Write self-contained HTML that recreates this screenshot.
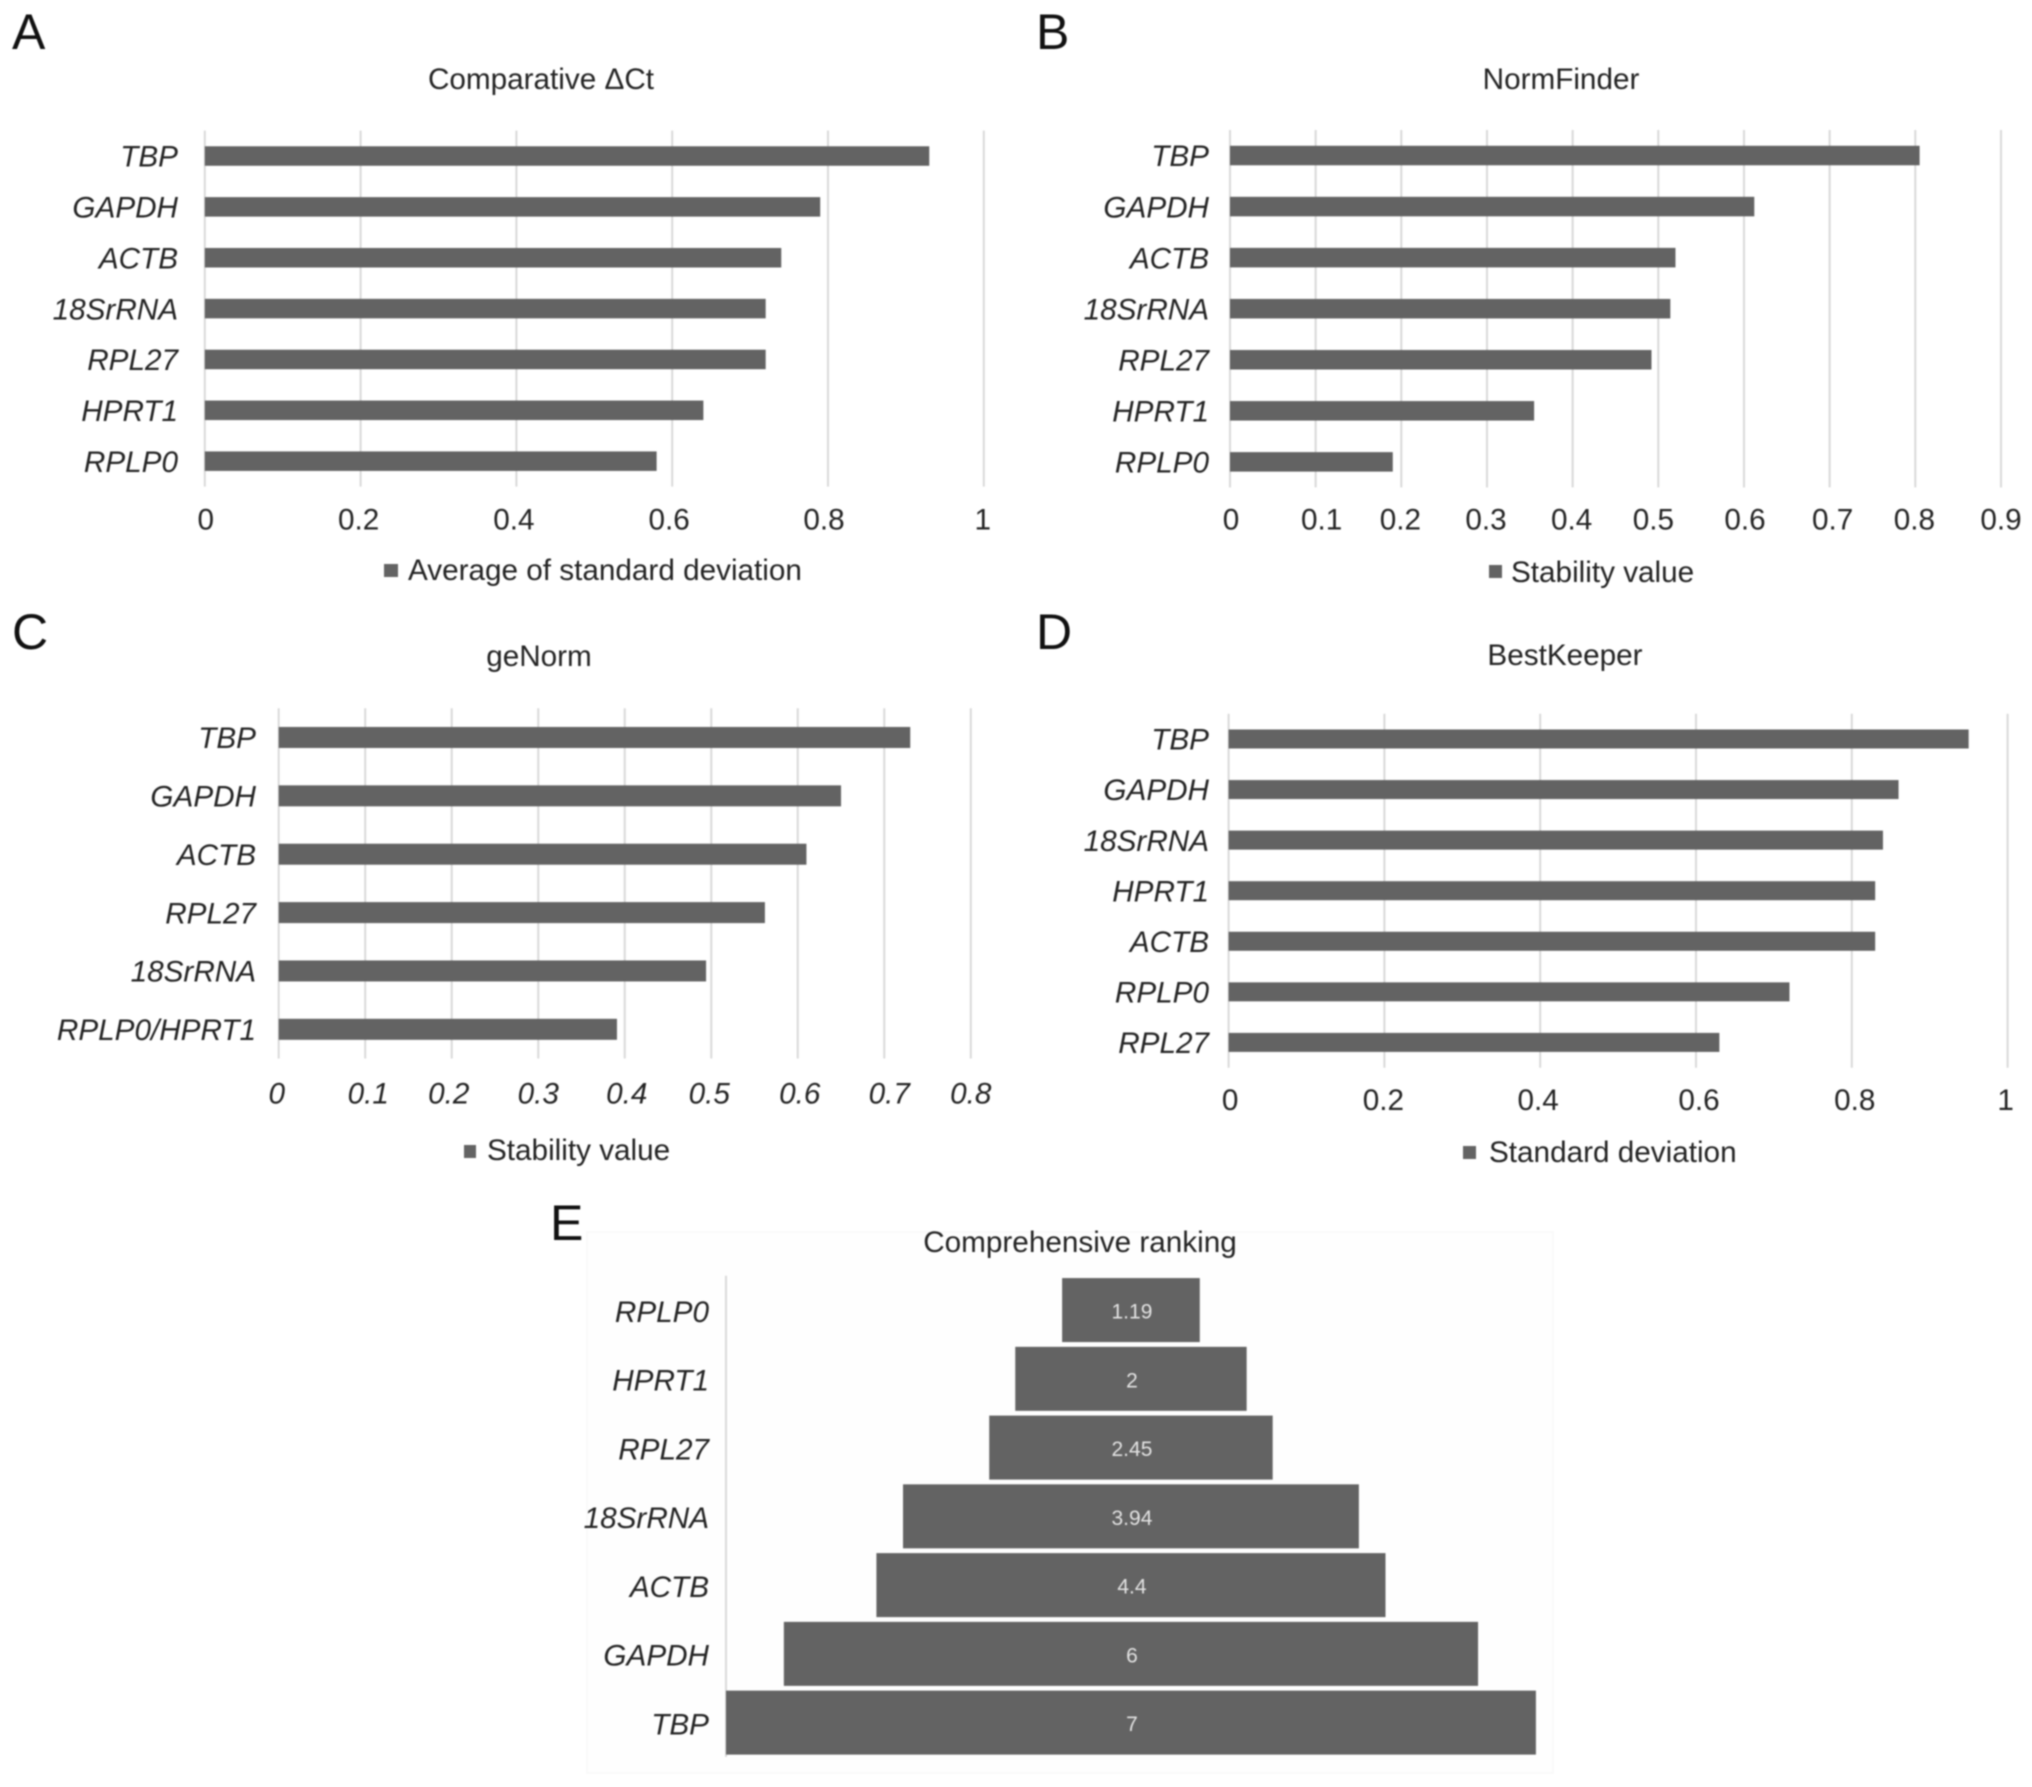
<!DOCTYPE html>
<html lang="en">
<head>
<meta charset="utf-8">
<title>Reference gene stability rankings</title>
<style>
  html, body { margin: 0; padding: 0; background: #fff; }
  body { width: 2032px; height: 1787px; overflow: hidden; }
  svg { display: block; filter: blur(0.7px); }
  text { font-family: "Liberation Sans", sans-serif; fill: #242424; font-size: 29.7px; }
  .letter { font-size: 50px; fill: #111; }
  .mid { text-anchor: middle; }
</style>
</head>
<body>
<svg id="figure" width="2032" height="1787" viewBox="0 0 2032 1787" xmlns="http://www.w3.org/2000/svg">
  <rect x="587" y="1232" width="966" height="541" fill="#fefefe" stroke="#fafafa" stroke-width="2"/>

  <text class="letter" x="12" y="49">A</text>
  <text class="letter" x="1036" y="49">B</text>
  <text class="letter" x="12" y="649">C</text>
  <text class="letter" x="1036" y="649">D</text>
  <text class="letter" x="550" y="1240">E</text>

  <text class="mid" x="541" y="89">Comparative ΔCt</text>
  <text class="mid" x="1561" y="89">NormFinder</text>
  <text class="mid" x="539" y="666">geNorm</text>
  <text class="mid" x="1565" y="665">BestKeeper</text>
  <text class="mid" x="1080" y="1252">Comprehensive ranking</text>

  <rect x="384" y="564" width="14" height="13" fill="#636363"/>
  <text x="408" y="580">Average of standard deviation</text>
  <rect x="1489" y="565" width="13" height="13" fill="#636363"/>
  <text x="1511" y="582">Stability value</text>
  <rect x="464" y="1145" width="12" height="13" fill="#636363"/>
  <text x="487" y="1160">Stability value</text>
  <rect x="1463" y="1146" width="13" height="13" fill="#636363"/>
  <text x="1489" y="1162">Standard deviation</text>

  <g id="charts"></g>
</svg>

<script>
// Panel A: Comparative delta-Ct
const aCategories = ['TBP', 'GAPDH', 'ACTB', '18SrRNA', 'RPL27', 'HPRT1', 'RPLP0'];
const aValues = [0.93, 0.79, 0.74, 0.72, 0.72, 0.64, 0.58];
const aTicks = [0, 0.2, 0.4, 0.6, 0.8, 1];

// Panel B: NormFinder
const bCategories = ['TBP', 'GAPDH', 'ACTB', '18SrRNA', 'RPL27', 'HPRT1', 'RPLP0'];
const bValues = [0.805, 0.612, 0.52, 0.514, 0.492, 0.355, 0.19];
const bTicks = [0, 0.1, 0.2, 0.3, 0.4, 0.5, 0.6, 0.7, 0.8, 0.9];

// Panel C: geNorm
const cCategories = ['TBP', 'GAPDH', 'ACTB', 'RPL27', '18SrRNA', 'RPLP0/HPRT1'];
const cValues = [0.73, 0.65, 0.61, 0.562, 0.494, 0.391];
const cTicks = [0, 0.1, 0.2, 0.3, 0.4, 0.5, 0.6, 0.7, 0.8];

// Panel D: BestKeeper
const dCategories = ['TBP', 'GAPDH', '18SrRNA', 'HPRT1', 'ACTB', 'RPLP0', 'RPL27'];
const dValues = [0.95, 0.86, 0.84, 0.83, 0.83, 0.72, 0.63];
const dTicks = [0, 0.2, 0.4, 0.6, 0.8, 1];

// Panel E: Comprehensive ranking
const eCategories = ['RPLP0', 'HPRT1', 'RPL27', '18SrRNA', 'ACTB', 'GAPDH', 'TBP'];
const eValues = [1.19, 2, 2.45, 3.94, 4.4, 6, 7];

const SVG_NS = 'http://www.w3.org/2000/svg';
const BAR_COLOR = '#636363';
const GRID_COLOR = '#d9d9d9';
const root = document.getElementById('charts');

function make(tag, parent, props) {
  const el = document.createElementNS(SVG_NS, tag);
  Object.keys(props).forEach(function (k) { el.setAttribute(k, props[k]); });
  parent.appendChild(el);
  return el;
}

function slug(s) {
  return s.toLowerCase().replace(/[^a-z0-9]+/g, '-');
}

function drawBars(id, categories, values, ticks, box) {
  const axisMax = ticks[ticks.length - 1];
  const x = function (v) { return box.left + (v / axisMax) * (box.right - box.left); };
  const step = (box.bottom - box.top) / categories.length;
  const y = function (i) { return box.top + step * (i + 0.5); };

  const group = make('g', root, {});
  
  

  ticks.forEach(function (t, n) {
    const line = make('line', group, {
      x1: x(t), x2: x(t), y1: box.top, y2: box.bottom,
      stroke: GRID_COLOR, 'stroke-width': 2
    });
    
    

    const label = make('text', group, {
      x: x(t) + (box.tickNudge[n] || 0), y: box.tickY, dy: '0.36em', 'text-anchor': 'middle',
      'font-style': box.tickItalic ? 'italic' : 'normal'
    });
    label.textContent = String(t);
    
    
  });

  categories.forEach(function (cat, i) {
    const bar = make('rect', group, {
      x: x(0), y: y(i) - box.barHeight / 2,
      width: x(values[i]) - x(0), height: box.barHeight, fill: BAR_COLOR
    });
    
    

    const label = make('text', group, {
      x: box.labelRight, y: y(i), dy: '0.36em', 'text-anchor': 'end', 'font-style': 'italic'
    });
    label.textContent = cat;
    
    
  });
}

function drawPyramid(id, categories, values, box) {
  const unit = box.unitWidth;
  const step = (box.bottom - box.top) / categories.length;
  const y = function (i) { return box.top + step * (i + 0.5); };
  const maxValue = Math.max.apply(null, values);
  const center = box.left + (maxValue * unit) / 2;

  const group = make('g', root, {});
  
  

  const axis = make('line', group, {
    x1: box.left, x2: box.left, y1: box.top, y2: box.bottom,
    stroke: GRID_COLOR, 'stroke-width': 2
  });
  
  

  categories.forEach(function (cat, i) {
    const w = values[i] * unit;
    const bar = make('rect', group, {
      x: center - w / 2, y: y(i) - box.barHeight / 2,
      width: w, height: box.barHeight, fill: BAR_COLOR
    });
    
    

    const value = make('text', group, {
      x: center + 1, y: y(i) + 1, dy: '0.36em', 'text-anchor': 'middle',
      style: 'fill:#e2e2e2;font-size:21px'
    });
    value.textContent = String(values[i]);
    
    

    const label = make('text', group, {
      x: box.labelRight, y: y(i) + 1, dy: '0.36em', 'text-anchor': 'end', 'font-style': 'italic'
    });
    label.textContent = cat;
    
    
  });
}

drawBars('a', aCategories, aValues, aTicks, {
  left: 204.8, right: 983.8, top: 130.6, bottom: 486.6,
  barHeight: 19.5, labelRight: 178, tickY: 518.6, tickItalic: false,
  tickNudge: [1, -2, -2.5, -3, -4, -1]
});
drawBars('b', bCategories, bValues, bTicks, {
  left: 1230, right: 2001, top: 130, bottom: 487.4,
  barHeight: 19.5, labelRight: 1209, tickY: 519, tickItalic: false,
  tickNudge: [1, 6, -1, -1, -1, -5, 1, 3, -1, 0]
});
drawBars('c', cCategories, cValues, cTicks, {
  left: 278.7, right: 970.8, top: 708.3, bottom: 1058.5,
  barHeight: 21, labelRight: 256, tickY: 1092.7, tickItalic: true,
  tickNudge: [-2, 3, -3, 0, 2, -2, 2, 5, 0]
});
drawBars('d', dCategories, dValues, dTicks, {
  left: 1228.6, right: 2007.6, top: 713.7, bottom: 1067.7,
  barHeight: 19, labelRight: 1209, tickY: 1099.4, tickItalic: false,
  tickNudge: [1.5, -1, -2, 3, 3, -2]
});
drawPyramid('e', eCategories, eValues, {
  left: 726, unitWidth: 115.7, top: 1275.7, bottom: 1757,
  barHeight: 64, labelRight: 709
});
</script>
</body>
</html>
